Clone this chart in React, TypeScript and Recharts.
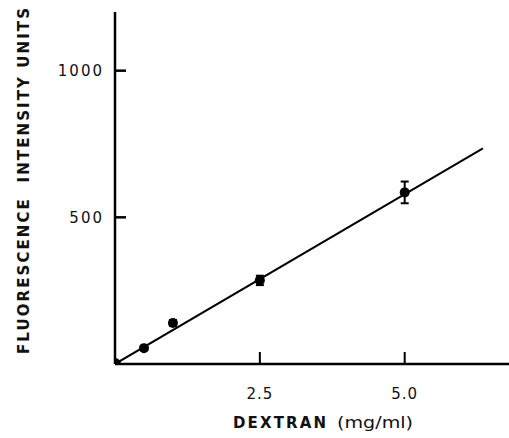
import React from "react";
import { ScatterChart, Scatter, XAxis, YAxis, ErrorBar, Label } from "recharts";

// Measured points: dextran (mg/ml) vs fluorescence intensity units
const dextran = [0, 0.5, 1.0, 2.5, 5.0];
const fluorescence = [0, 54, 140, 285, 585];
const errors = [0, 0, 10, 16, 37];

// Fitted regression line end points
const fitX = [0, 6.35];
const fitY = [0, 735];

const xTicks = [2.5, 5.0];
const xTickLabels = ["2.5", "5.0"];
const yTicks = [500, 1000];
const yTickLabels = ["500", "1000"];

const points = dextran.map((x, i) => ({ x, y: fluorescence[i], err: errors[i] }));
const fit = fitX.map((x, i) => ({ x, y: fitY[i] }));

const font = "'DejaVu Sans', 'Liberation Sans', Arial, sans-serif";

const YLabel = (props: any) => {
  const vb = props.viewBox || {};
  const cx = vb.x + 24;
  const cy = vb.y + vb.height / 2 - 7;
  return (
    <text
      x={cx}
      y={cy}
      transform={`rotate(-90 ${cx} ${cy})`}
      textAnchor="middle"
      dominantBaseline="central"
      fontFamily={font}
      fontWeight="bold"
      fontSize={15}
      fill="#111"
      textLength={346}
      lengthAdjust="spacing"
      style={{ whiteSpace: "pre" }}
    >
      {"FLUORESCENCE  INTENSITY UNITS"}
    </text>
  );
};

const XLabel = (props: any) => {
  const vb = props.viewBox || {};
  const y0 = vb.y + 59;
  return (
    <g fontFamily={font} fill="#111">
      <text x={233} y={y0} dominantBaseline="central" fontWeight="bold" fontSize={15} textLength={93} lengthAdjust="spacing">
        DEXTRAN
      </text>
      <text x={337} y={y0} dominantBaseline="central" fontSize={15} textLength={76} lengthAdjust="spacingAndGlyphs">
        (mg/ml)
      </text>
    </g>
  );
};

export default function App() {
  return (
    <div style={{ position: "absolute", left: 0, top: 0, background: "#fff" }}>
      <ScatterChart
        width={509}
        height={438}
        margin={{ top: 12, right: 0, bottom: 0, left: 0 }}
      >
        <XAxis
          dataKey="x"
          type="number"
          domain={[0, 6.8]}
          ticks={xTicks}
          tickFormatter={(v: number) => xTickLabels[xTicks.indexOf(v)] ?? ""}
          tickSize={-12}
          tickMargin={36}
          axisLine={{ stroke: "#000", strokeWidth: 2.5 }}
          tickLine={{ stroke: "#000", strokeWidth: 2 }}
          tick={{ fill: "#111", fontSize: 15, fontFamily: font, letterSpacing: 1 }}
          height={74}
          allowDataOverflow
        >
          <Label content={XLabel} />
        </XAxis>
        <YAxis
          dataKey="y"
          type="number"
          domain={[0, 1200]}
          ticks={yTicks}
          tickFormatter={(v: number) => yTickLabels[yTicks.indexOf(v)] ?? ""}
          tickSize={-11}
          tickMargin={22}
          axisLine={{ stroke: "#000", strokeWidth: 2.5 }}
          tickLine={{ stroke: "#000", strokeWidth: 2.5 }}
          tick={{ fill: "#111", fontSize: 15, fontFamily: font, letterSpacing: 2 }}
          width={115}
          allowDataOverflow
        >
          <Label content={YLabel} />
        </YAxis>
        <Scatter
          data={fit}
          line={{ stroke: "#000", strokeWidth: 2 }}
          shape={() => <g />}
          isAnimationActive={false}
        />
        <Scatter
          data={points}
          fill="#000"
          isAnimationActive={false}
          shape={(p: any) => <circle cx={p.cx} cy={p.cy} r={p.payload.x === 0 ? 6 : 5} fill="#000" />}
        >
          <ErrorBar dataKey="err" direction="y" width={4} stroke="#000" strokeWidth={2} />
        </Scatter>
      </ScatterChart>
    </div>
  );
}
